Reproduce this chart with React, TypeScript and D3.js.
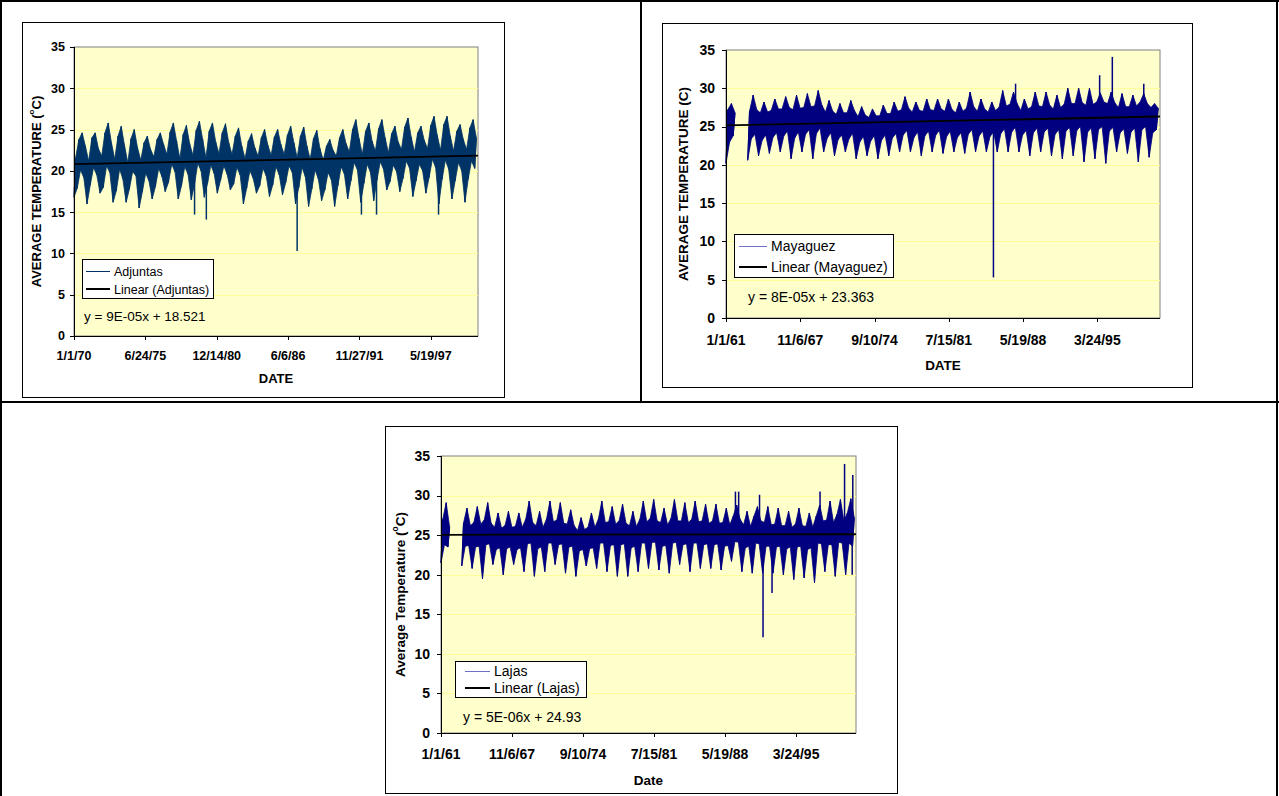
import React from "react";
import * as d3 from "d3";

// Adjuntas: 8 readings a year (Jan lo, Feb hi, Apr lo, May hi, Jul lo, Aug hi, Oct lo, Nov hi)
const adjuntasTemps = [
  16.8, 21.6, 17.9, 23.8, 20.1, 24.6, 19.2, 23.0, // 1970
  16.0, 21.2, 18.3, 24.0, 20.4, 24.6, 19.5, 22.7,
  17.3, 21.8, 18.0, 24.6, 20.6, 25.8, 19.8, 23.4,
  16.2, 21.4, 17.6, 24.2, 20.2, 25.4, 19.0, 23.1,
  16.2, 21.0, 17.8, 23.9, 19.9, 25.0, 19.4, 22.8,
  15.5, 21.3, 17.5, 23.4, 19.7, 24.2, 18.8, 22.6, // 1975
  16.6, 21.7, 18.1, 23.8, 20.3, 24.6, 19.3, 23.2,
  17.5, 22.0, 18.6, 24.7, 20.8, 25.8, 19.9, 23.6,
  16.6, 21.5, 18.2, 24.4, 20.5, 25.5, 19.6, 23.3,
  16.5, 21.9, 18.4, 24.9, 20.9, 26.0, 20.0, 23.8,
  16.8, 21.6, 18.5, 24.8, 20.7, 25.8, 19.7, 23.5, // 1980
  17.3, 22.1, 18.9, 24.6, 20.6, 25.7, 19.6, 23.4,
  17.7, 22.0, 18.4, 24.2, 20.4, 25.2, 19.5, 23.0,
  16.0, 21.5, 17.9, 23.6, 20.0, 24.5, 19.1, 22.8,
  17.3, 21.8, 18.2, 24.0, 20.3, 25.0, 19.4, 23.1,
  16.9, 21.9, 18.3, 24.1, 20.5, 25.0, 19.5, 23.2, // 1985
  17.1, 22.0, 18.6, 24.3, 20.6, 25.4, 19.8, 23.4,
  16.0, 21.6, 18.0, 24.2, 20.4, 25.3, 19.3, 23.0,
  15.7, 21.4, 17.8, 23.9, 20.1, 24.9, 19.0, 22.7,
  16.4, 21.3, 17.7, 23.0, 19.8, 23.8, 18.9, 22.5,
  15.7, 21.8, 18.2, 24.0, 20.5, 25.0, 19.6, 23.3, // 1990
  16.6, 22.3, 18.8, 25.0, 21.0, 26.2, 20.1, 23.9,
  16.2, 22.0, 18.5, 24.8, 20.8, 25.8, 19.8, 23.6,
  16.4, 22.4, 18.9, 25.1, 21.1, 26.2, 20.2, 24.0,
  17.7, 22.2, 18.7, 24.5, 20.7, 25.4, 19.9, 23.5,
  17.5, 22.6, 19.1, 25.3, 21.2, 26.4, 20.3, 24.1, // 1995
  16.9, 22.3, 18.8, 24.6, 20.8, 25.4, 20.0, 23.7,
  17.3, 22.7, 19.2, 25.5, 21.4, 26.6, 20.4, 24.3,
  16.0, 22.5, 19.0, 25.6, 21.3, 26.6, 20.2, 24.2,
  16.6, 22.4, 18.8, 24.8, 21.0, 25.6, 20.0, 23.8,
  16.2, 22.6, 19.0, 25.2, 21.2, 26.2, 20.3, 24.0, // 2000
];
// single-day extremes that stick out of the band as thin needles
const adjuntasSpikes = [
  ["1979-04-03", 14.7], ["1980-02-27", 14.1], ["1987-02-15", 10.3],
  ["1992-01-22", 14.7], ["1993-03-20", 14.7], ["1997-12-22", 14.7],
];

// Mayaguez: 6 readings a year (Jan lo, Mar hi, May lo, Jul hi, Sep lo, Nov hi); 1962 missing
const mayaguezTemps = [
  20.2, 27.2, 23.0, 28.0, 23.8, 26.8, // 1961
  null, null, null, null, null, null,
  20.6, 27.0, 23.4, 29.1, 24.0, 27.2,
  21.2, 26.8, 23.2, 28.2, 23.9, 26.9,
  21.5, 27.1, 23.6, 28.6, 24.2, 27.3,
  21.7, 27.3, 23.8, 28.9, 24.4, 27.5, // 1966
  20.8, 27.2, 23.5, 29.1, 24.3, 27.4,
  21.7, 27.5, 24.0, 29.3, 24.6, 27.6,
  20.8, 27.7, 24.1, 29.7, 24.8, 27.8,
  21.7, 26.9, 23.5, 28.4, 24.2, 27.0,
  21.2, 26.6, 23.3, 28.0, 23.9, 26.8, // 1971
  21.7, 26.8, 23.4, 28.4, 24.1, 27.1,
  20.8, 26.3, 23.0, 27.6, 23.7, 26.5,
  21.2, 26.2, 23.1, 27.3, 23.8, 26.4,
  20.8, 26.4, 23.2, 27.8, 23.9, 26.7,
  21.2, 26.7, 23.5, 28.2, 24.1, 27.0, // 1976
  21.7, 27.2, 23.9, 28.9, 24.5, 27.4,
  21.7, 26.9, 23.6, 28.2, 24.3, 27.1,
  21.2, 27.0, 23.8, 28.6, 24.4, 27.2,
  21.7, 27.1, 23.9, 28.6, 24.5, 27.3,
  21.5, 27.0, 23.7, 28.6, 24.4, 27.2, // 1981
  21.7, 26.8, 23.6, 28.2, 24.2, 27.0,
  21.5, 27.4, 24.0, 29.5, 24.6, 27.6,
  21.7, 27.0, 23.8, 28.6, 24.4, 27.3,
  21.7, 26.9, 23.7, 28.2, 24.3, 27.1,
  21.7, 27.5, 24.1, 29.7, 24.7, 27.7, // 1986
  21.7, 27.9, 24.3, 29.5, 24.9, 28.0,
  21.7, 27.1, 23.9, 28.6, 24.5, 27.3,
  21.2, 27.6, 24.2, 29.5, 24.8, 27.7,
  21.7, 27.6, 24.3, 29.5, 24.8, 27.8,
  21.2, 27.3, 24.0, 29.1, 24.6, 27.5, // 1991
  20.8, 27.9, 24.4, 30.0, 24.9, 28.0,
  21.2, 28.0, 24.5, 30.0, 25.0, 28.1,
  20.4, 27.8, 24.3, 30.0, 24.8, 27.9,
  20.8, 28.2, 24.6, 29.4, 25.0, 28.2,
  20.2, 28.0, 24.4, 29.5, 24.9, 28.1, // 1996
  21.7, 27.5, 24.2, 29.3, 24.7, 27.6,
  21.5, 27.6, 24.3, 29.1, 24.8, 27.7,
  20.4, 28.2, 24.6, 29.3, 25.0, 28.0,
  21.0, 27.5, 24.2, 28.0, 24.6, 27.4, // 2000
];
const mayaguezSpikes = [
  ["1985-08-26", 5.3], ["1987-09-10", 30.6], ["1995-06-10", 31.7],
  ["1996-08-10", 34.1], ["1999-07-05", 30.6],
];

// Lajas: 6 readings a year (Jan lo, Mar hi, May lo, Jul hi, Sep lo, Nov hi); 1962 missing
const lajasTemps = [
  21.5, 27.0, 23.8, 29.1, 23.5, 26.0, // 1961
  null, null, null, null, null, null,
  21.1, 26.5, 23.6, 28.4, 23.7, 26.2,
  20.8, 26.6, 23.5, 28.6, 23.6, 26.4,
  19.5, 26.9, 23.8, 29.1, 23.9, 26.5,
  21.3, 26.0, 23.2, 27.8, 23.4, 25.9, // 1966
  20.0, 26.2, 23.3, 28.0, 23.5, 26.0,
  21.3, 26.1, 23.2, 27.8, 23.4, 26.0,
  20.4, 27.0, 23.9, 29.3, 24.0, 26.6,
  19.8, 26.2, 23.3, 28.0, 23.5, 26.0,
  20.4, 27.0, 24.0, 29.3, 24.0, 26.7, // 1971
  21.3, 26.9, 23.8, 29.1, 23.9, 26.5,
  20.2, 26.4, 23.5, 28.2, 23.6, 26.2,
  19.8, 25.6, 23.0, 27.2, 23.2, 25.7,
  21.1, 26.0, 23.3, 27.8, 23.4, 26.0,
  20.8, 27.0, 24.0, 29.3, 24.0, 26.6, // 1976
  20.4, 26.7, 23.7, 28.6, 23.8, 26.4,
  19.8, 26.8, 23.8, 28.9, 23.9, 26.5,
  19.8, 26.2, 23.4, 28.0, 23.6, 26.1,
  20.4, 27.0, 24.0, 29.3, 24.0, 26.7,
  20.8, 27.1, 24.1, 29.5, 24.1, 26.8, // 1981
  20.6, 26.6, 23.6, 28.4, 23.7, 26.3,
  20.2, 27.1, 24.0, 29.5, 24.1, 26.8,
  21.3, 26.8, 23.8, 29.1, 23.9, 26.6,
  20.4, 27.0, 24.0, 29.3, 24.0, 26.7,
  20.8, 26.8, 23.8, 28.9, 23.9, 26.5, // 1986
  20.8, 26.8, 23.8, 28.9, 23.9, 26.5,
  20.6, 26.6, 23.6, 28.4, 23.7, 26.3,
  21.7, 27.4, 24.2, 28.8, 24.1, 27.0,
  20.4, 26.3, 23.4, 28.0, 23.6, 26.1,
  20.2, 27.4, 24.0, 28.6, 23.9, 26.8, // 1991
  20.2, 26.6, 23.6, 28.6, 23.6, 26.3,
  20.2, 26.4, 23.5, 28.4, 23.6, 26.2,
  20.0, 26.2, 23.3, 28.0, 23.5, 26.0,
  19.4, 26.4, 23.5, 28.4, 23.6, 26.2,
  19.6, 26.1, 23.2, 27.8, 23.4, 26.0, // 1996
  19.0, 27.4, 24.0, 28.8, 23.9, 26.8,
  20.4, 26.9, 23.8, 29.3, 23.8, 26.6,
  19.8, 27.6, 24.1, 29.5, 24.0, 26.8,
  20.0, 27.8, 24.0, 29.6, 23.6, 27.2, // 2000
];
const lajasSpikes = [
  ["1989-05-20", 30.5], ["1989-09-10", 30.5], ["1991-09-15", 30.1],
  ["1992-01-16", 12.1], ["1992-11-28", 17.7], ["1997-07-15", 30.5],
  ["1999-11-25", 34.0], ["2000-08-20", 20.0], ["2000-09-10", 32.6],
];

const yTicks = [0, 5, 10, 15, 20, 25, 30, 35];

const FONT = "'Liberation Sans', Arial, Helvetica, sans-serif";
const DAY = 86400000;
const EXCEL_EPOCH = Date.UTC(1899, 11, 30);
const fmt = d3.utcFormat("%-m/%-d/%y");
const parse = d3.utcParse("%Y-%m-%d");

const charts = [
  {
    name: "Adjuntas", values: adjuntasTemps, spikes: adjuntasSpikes, perYear: 8,
    start: new Date(Date.UTC(1970, 0, 1)), end: new Date(Date.UTC(2001, 0, 1)), tickStep: 2000,
    slope: 9e-5, intercept: 18.521, eq: "y = 9E-05x + 18.521",
    color: "#003366", legendColor: "#003366",
    yTitle: ["AVERAGE TEMPERATURE (", "o", "C)"], xTitle: "DATE",
    box: { x: 22, y: 22, w: 482, h: 375 },
    plot: { l: 74, t: 47, r: 478, b: 336 },
    tickFont: 12.5, titleFont: 13, textFont: 12.5, eqFont: 13.5,
    yLabelGap: 9, xLabelDy: 24, xTitleDy: 47, yTitleX: 36,
    legend: { x: 82, y: 259, w: 131, h: 39, rows: [271, 289], sx: 86, ex: 110, tx: 114 },
    eqPos: { x: 84, y: 321 },
  },
  {
    name: "Mayaguez", values: mayaguezTemps, spikes: mayaguezSpikes, perYear: 6,
    start: new Date(Date.UTC(1961, 0, 1)), end: new Date(Date.UTC(2001, 0, 1)), tickStep: 2500,
    slope: 8e-5, intercept: 23.363, eq: "y = 8E-05x + 23.363",
    color: "#000080", legendColor: "#7070c4",
    yTitle: ["AVERAGE TEMPERATURE (C)", "", ""], xTitle: "DATE",
    box: { x: 662, y: 23, w: 530, h: 364 },
    plot: { l: 726, t: 50, r: 1160, b: 318 },
    tickFont: 14, titleFont: 13.5, textFont: 14, eqFont: 14,
    yLabelGap: 11, xLabelDy: 27, xTitleDy: 52, yTitleX: 683,
    legend: { x: 734, y: 234, w: 159, h: 43, rows: [246, 267], sx: 739, ex: 767, tx: 771 },
    eqPos: { x: 748, y: 302 },
  },
  {
    name: "Lajas", values: lajasTemps, spikes: lajasSpikes, perYear: 6,
    start: new Date(Date.UTC(1961, 0, 1)), end: new Date(Date.UTC(2001, 0, 1)), tickStep: 2500,
    slope: 5e-6, intercept: 24.93, eq: "y = 5E-06x + 24.93",
    color: "#000080", legendColor: "#7070c4",
    yTitle: ["Average Temperature (", "o", "C)"], xTitle: "Date",
    box: { x: 385, y: 426, w: 512, h: 367 },
    plot: { l: 441, t: 456, r: 856, b: 733 },
    tickFont: 14, titleFont: 13.5, textFont: 14, eqFont: 14,
    yLabelGap: 11, xLabelDy: 26, xTitleDy: 52, yTitleX: 400,
    legend: { x: 455, y: 661, w: 131, h: 36, rows: [671, 688], sx: 465, ex: 490, tx: 494 },
    eqPos: { x: 463, y: 722 },
  },
];

const Chart = ({ c }: { c: any }) => {
  const { plot, box, legend } = c;
  const x = d3.scaleUtc().domain([c.start, c.end]).range([plot.l, plot.r]);
  const y = d3.scaleLinear().domain([0, 35]).range([plot.b, plot.t]);

  const step = (365.25 / c.perYear) * DAY;
  const pts = c.values.map((v: number | null, i: number) => ({ t: new Date(+c.start + i * step), v }));

  // the daily trace is so dense it reads as a filled band between its low and high excursions
  const pairs = d3.range(0, pts.length - 1, 2).map(i => ({ lo: pts[i], hi: pts[i + 1] }));
  const band = d3.area<any>()
    .defined(d => d.lo.v != null && d.hi.v != null)
    .x0(d => x(d.lo.t)).y0(d => y(d.lo.v))
    .x1(d => x(d.hi.t)).y1(d => y(d.hi.v));
  const line = d3.line<any>()
    .defined(d => d.v != null)
    .x(d => x(d.t))
    .y(d => y(d.v));

  // needles: from the nearest band sample out to the single-day extreme
  const near = d3.bisector((p: any) => +p.lo.t);
  const spikes = c.spikes.map(([ds, v]: [string, number]) => {
    const t = parse(ds) as Date;
    const p = pairs[near.center(pairs, +t)];
    const base = (p.lo.v + p.hi.v) / 2;
    return [{ t, v: base }, { t, v }];
  });

  const serial = (d: Date) => (+d - EXCEL_EPOCH) / DAY;
  const trend = [c.start, c.end].map((t: Date) => ({ t, v: c.slope * serial(t) + c.intercept }));

  const totalDays = d3.utcDay.count(c.start, c.end);
  const xTicks = d3.range(0, totalDays, c.tickStep).map(d => d3.utcDay.offset(c.start, d));
  const midY = (plot.t + plot.b) / 2;
  const midX = (plot.l + plot.r) / 2;

  return (
    <g fontFamily={FONT}>
      <rect x={box.x + 0.5} y={box.y + 0.5} width={box.w} height={box.h} fill="#fff" stroke="#000" />
      <rect x={plot.l} y={plot.t} width={plot.r - plot.l} height={plot.b - plot.t} fill="#ffffcc" stroke="#808080" />
      {yTicks.filter(v => v > 0 && v < 35).map(v => (
        <line key={v} x1={plot.l} x2={plot.r} y1={Math.round(y(v)) + 0.5} y2={Math.round(y(v)) + 0.5} stroke="#ffff99" />
      ))}
      <path d={band(pairs) || ""} fill={c.color} stroke={c.color} strokeWidth={0.8} />
      <path d={line(pts) || ""} fill="none" stroke={c.color} strokeWidth={1} />
      {spikes.map((s: any, i: number) => (
        <path key={i} d={line(s) || ""} fill="none" stroke={c.color} strokeWidth={1.5} />
      ))}
      <path d={line(trend) || ""} fill="none" stroke="#000" strokeWidth={1.8} />
      {/* axes */}
      <line x1={plot.l + 0.5} x2={plot.l + 0.5} y1={plot.t} y2={plot.b} stroke="#000" />
      <line x1={plot.l} x2={plot.r} y1={plot.b + 0.5} y2={plot.b + 0.5} stroke="#000" />
      {yTicks.map(v => (
        <g key={v}>
          <line x1={plot.l - 4} x2={plot.l} y1={Math.round(y(v)) + 0.5} y2={Math.round(y(v)) + 0.5} stroke="#000" />
          <text x={plot.l - c.yLabelGap} y={y(v)} dy="0.35em" textAnchor="end" fontWeight="bold" fontSize={c.tickFont}>{v}</text>
        </g>
      ))}
      {xTicks.map((t, i) => (
        <g key={i}>
          <line x1={Math.round(x(t)) + 0.5} x2={Math.round(x(t)) + 0.5} y1={plot.b} y2={plot.b + 4} stroke="#000" />
          <text x={x(t)} y={plot.b + c.xLabelDy} textAnchor="middle" fontWeight="bold" fontSize={c.tickFont}>{fmt(t)}</text>
        </g>
      ))}
      <text x={midX} y={plot.b + c.xTitleDy} textAnchor="middle" fontWeight="bold" fontSize={c.titleFont}>{c.xTitle}</text>
      <text transform={`translate(${c.yTitleX},${midY}) rotate(-90)`} textAnchor="middle" dominantBaseline="central"
        fontWeight="bold" fontSize={c.titleFont}>
        {c.yTitle[0]}
        {c.yTitle[1] && <tspan dy={-5} fontSize={c.titleFont * 0.62}>{c.yTitle[1]}</tspan>}
        {c.yTitle[1] && <tspan dy={5}>{c.yTitle[2]}</tspan>}
      </text>
      {/* legend */}
      <rect x={legend.x + 0.5} y={legend.y + 0.5} width={legend.w} height={legend.h} fill="#fff" stroke="#000" />
      <line x1={legend.sx} x2={legend.ex} y1={legend.rows[0] + 0.5} y2={legend.rows[0] + 0.5} stroke={c.legendColor} strokeWidth={1} />
      <text x={legend.tx} y={legend.rows[0]} dy="0.36em" fontSize={c.textFont}>{c.name}</text>
      <line x1={legend.sx} x2={legend.ex} y1={legend.rows[1]} y2={legend.rows[1]} stroke="#000" strokeWidth={2} />
      <text x={legend.tx} y={legend.rows[1]} dy="0.36em" fontSize={c.textFont}>{`Linear (${c.name})`}</text>
      <text x={c.eqPos.x} y={c.eqPos.y} fontSize={c.eqFont}>{c.eq}</text>
    </g>
  );
};

export default function App() {
  return (
    <svg width={1279} height={796} style={{ position: "absolute", left: 0, top: 0, display: "block", background: "#fff" }}>
      {/* page table rules */}
      <g stroke="#000" strokeWidth={2}>
        <line x1={0} x2={1279} y1={1} y2={1} />
        <line x1={0} x2={1279} y1={402} y2={402} />
        <line x1={1} x2={1} y1={0} y2={796} />
        <line x1={1277} x2={1277} y1={0} y2={796} />
        <line x1={641} x2={641} y1={0} y2={402} />
      </g>
      {charts.map(c => <Chart key={c.name} c={c} />)}
    </svg>
  );
}
